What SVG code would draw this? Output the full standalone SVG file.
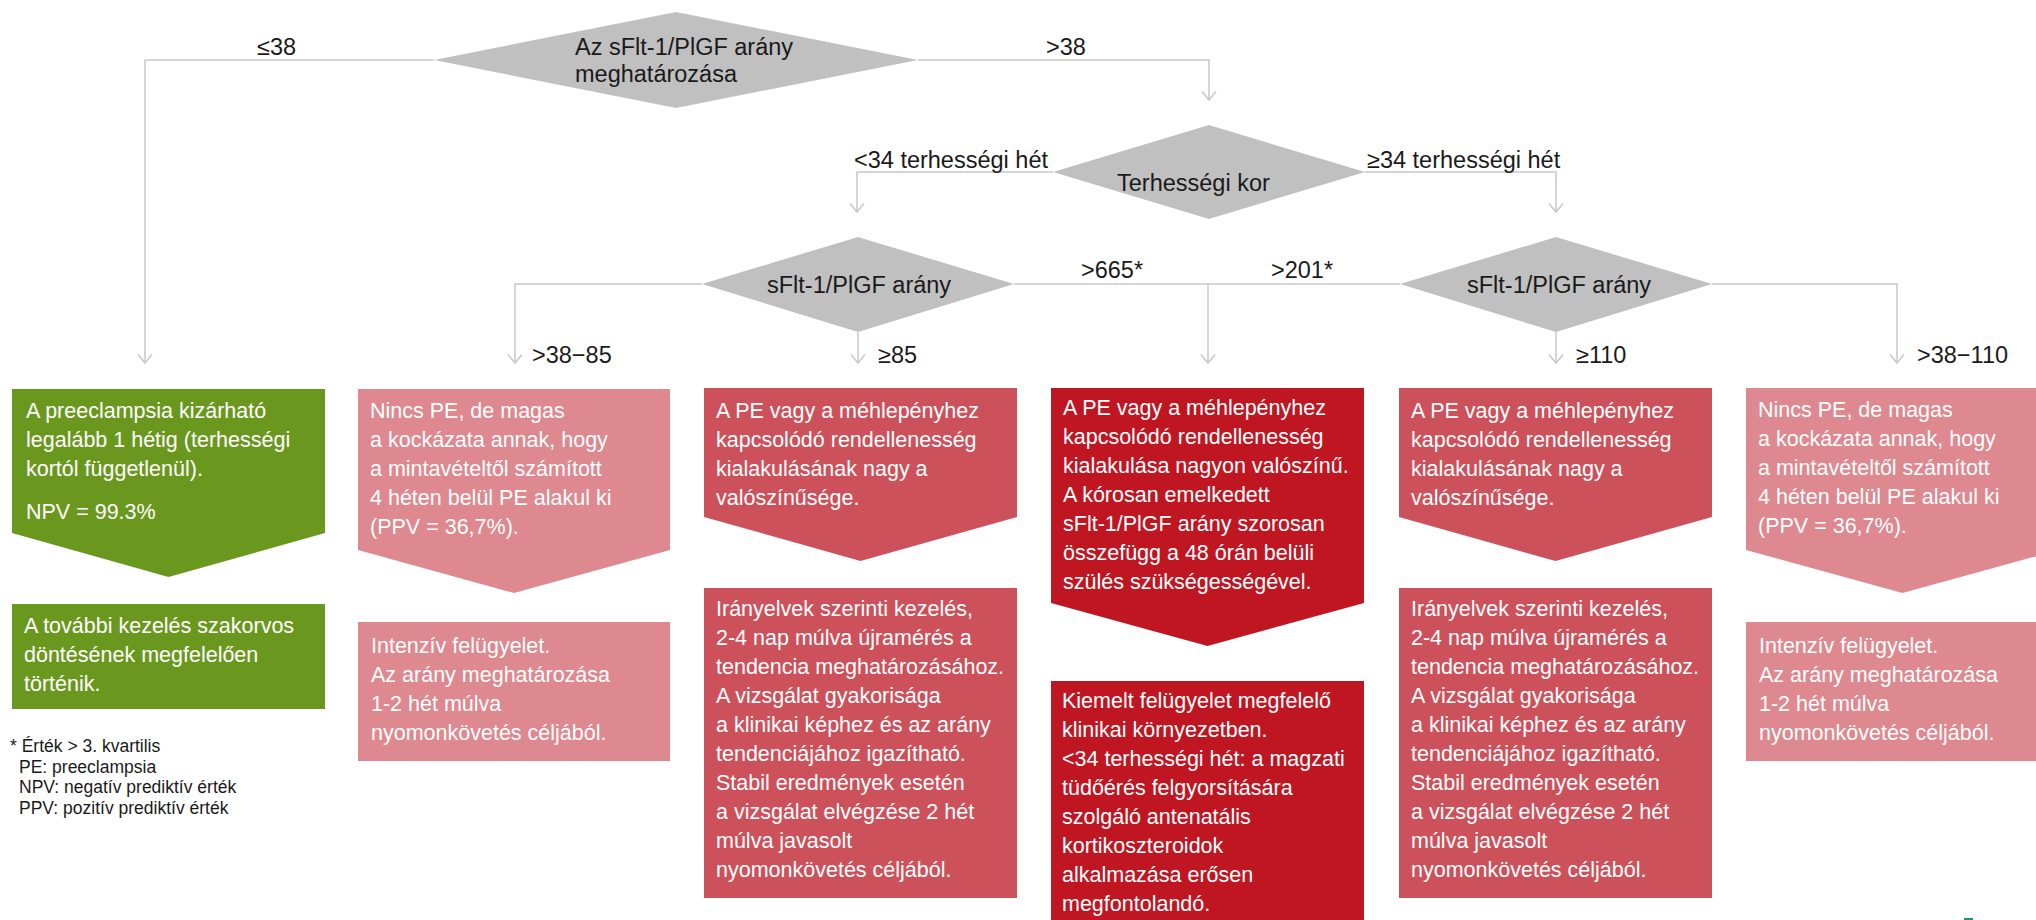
<svg xmlns="http://www.w3.org/2000/svg" width="2036" height="920" viewBox="0 0 2036 920">
<style>
.dia{fill:#c0c0c0}
.dt{font-family:"Liberation Sans",Arial,sans-serif;font-size:23.5px;fill:#1a1a1a}
.lbl{font-family:"Liberation Sans",Arial,sans-serif;font-size:23.5px;fill:#1a1a1a}
.bt{font-family:"Liberation Sans",Arial,sans-serif;font-size:21.5px;fill:#ffffff}
.fn{font-family:"Liberation Sans",Arial,sans-serif;font-size:17.5px;fill:#1a1a1a}
.ln{fill:none;stroke:#c8c8c8;stroke-width:1.5}
.arr{marker-end:url(#ah)}
.green{fill:#6a981e}
.pink{fill:#de8890}
.red{fill:#cd515a}
.dark{fill:#bf1622}
</style>
<defs>
<marker id="ah" markerUnits="userSpaceOnUse" markerWidth="20" markerHeight="20" viewBox="-10 -10 20 20" refX="0" refY="0" orient="auto" overflow="visible">
<path d="M-8.5,-7 L0,0 L-8.5,7" fill="none" stroke="#c8c8c8" stroke-width="1.5"/>
</marker>
</defs>
<rect width="2036" height="920" fill="#ffffff"/>

<g id="connectors">
<path class="ln arr" d="M434,60 H145 V363"/>
<path class="ln arr" d="M918,60 H1209 V100"/>
<path class="ln arr" d="M1053,172 H857 V212"/>
<path class="ln arr" d="M1365,172 H1556 V212"/>
<path class="ln arr" d="M702,284 H515 V363"/>
<path class="ln arr" d="M858,332 V363"/>
<path class="ln" d="M1014,284 H1400"/>
<path class="ln arr" d="M1208,284 V363"/>
<path class="ln arr" d="M1556,332 V363"/>
<path class="ln arr" d="M1712,284 H1897 V363"/>
<text class="lbl" x="257" y="55">≤38</text>
<text class="lbl" x="1046" y="55">&gt;38</text>
<text class="lbl" x="1048" y="168" text-anchor="end">&lt;34 terhességi hét</text>
<text class="lbl" x="1367" y="168">≥34 terhességi hét</text>
<text class="lbl" x="1081" y="278">&gt;665*</text>
<text class="lbl" x="1271" y="278">&gt;201*</text>
<text class="lbl" x="532" y="363">&gt;38−85</text>
<text class="lbl" x="878" y="363">≥85</text>
<text class="lbl" x="1576" y="363">≥110</text>
<text class="lbl" x="1917" y="363">&gt;38−110</text>
</g>

<g id="d-ratio">
<polygon class="dia" points="434,60 676,12 918,60 676,108"/>
<text class="dt" x="575" y="55">Az sFlt-1/PlGF arány</text>
<text class="dt" x="575" y="82">meghatározása</text>
</g>
<g id="d-age">
<polygon class="dia" points="1053,172 1209,125 1365,172 1209,219"/>
<text class="dt" x="1117" y="191">Terhességi kor</text>
</g>
<g id="d-ratio-lt34">
<polygon class="dia" points="702,284 858,237 1014,284 858,332"/>
<text class="dt" x="767" y="293">sFlt-1/PlGF arány</text>
</g>
<g id="d-ratio-ge34">
<polygon class="dia" points="1400,284 1556,237 1712,284 1556,332"/>
<text class="dt" x="1467" y="293">sFlt-1/PlGF arány</text>
</g>

<g id="c1-result">
<polygon class="green" points="12,389 325,389 325,533 168.5,577 12,533"/>
<text class="bt"><tspan x="26" y="418">A preeclampsia kizárható</tspan><tspan x="26" y="447">legalább 1 hétig (terhességi</tspan><tspan x="26" y="476">kortól függetlenül).</tspan><tspan x="26" y="519">NPV = 99.3%</tspan></text>
</g>
<g id="c1-action">
<rect class="green" x="12" y="604" width="313" height="105"/>
<text class="bt"><tspan x="24" y="633">A további kezelés szakorvos</tspan><tspan x="24" y="662">döntésének megfelelően</tspan><tspan x="24" y="691">történik.</tspan></text>
</g>

<g id="c2-result">
<polygon class="pink" points="358,389 670,389 670,550 514,593 358,550"/>
<text class="bt"><tspan x="370" y="418">Nincs PE, de magas</tspan><tspan x="370" y="447">a kockázata annak, hogy</tspan><tspan x="370" y="476">a mintavételtől számított</tspan><tspan x="370" y="505">4 héten belül PE alakul ki</tspan><tspan x="370" y="534">(PPV = 36,7%).</tspan></text>
</g>
<g id="c2-action">
<rect class="pink" x="358" y="622" width="312" height="139"/>
<text class="bt"><tspan x="371" y="653">Intenzív felügyelet.</tspan><tspan x="371" y="682">Az arány meghatározása</tspan><tspan x="371" y="711">1-2 hét múlva</tspan><tspan x="371" y="740">nyomonkövetés céljából.</tspan></text>
</g>

<g id="c3-result">
<polygon class="red" points="704,388 1017,388 1017,517 860.5,561 704,517"/>
<text class="bt"><tspan x="716" y="418">A PE vagy a méhlepényhez</tspan><tspan x="716" y="447">kapcsolódó rendellenesség</tspan><tspan x="716" y="476">kialakulásának nagy a</tspan><tspan x="716" y="505">valószínűsége.</tspan></text>
</g>
<g id="c3-action">
<rect class="red" x="704" y="588" width="313" height="310"/>
<text class="bt"><tspan x="716" y="616">Irányelvek szerinti kezelés,</tspan><tspan x="716" y="645">2-4 nap múlva újramérés a</tspan><tspan x="716" y="674">tendencia meghatározásához.</tspan><tspan x="716" y="703">A vizsgálat gyakorisága</tspan><tspan x="716" y="732">a klinikai képhez és az arány</tspan><tspan x="716" y="761">tendenciájához igazítható.</tspan><tspan x="716" y="790">Stabil eredmények esetén</tspan><tspan x="716" y="819">a vizsgálat elvégzése 2 hét</tspan><tspan x="716" y="848">múlva javasolt</tspan><tspan x="716" y="877">nyomonkövetés céljából.</tspan></text>
</g>

<g id="c4-result">
<polygon class="dark" points="1051,388 1364,388 1364,603 1207.5,646 1051,603"/>
<text class="bt"><tspan x="1063" y="415">A PE vagy a méhlepényhez</tspan><tspan x="1063" y="444">kapcsolódó rendellenesség</tspan><tspan x="1063" y="473">kialakulása nagyon valószínű.</tspan><tspan x="1063" y="502">A kórosan emelkedett</tspan><tspan x="1063" y="531">sFlt-1/PlGF arány szorosan</tspan><tspan x="1063" y="560">összefügg a 48 órán belüli</tspan><tspan x="1063" y="589">szülés szükségességével.</tspan></text>
</g>
<g id="c4-action">
<rect class="dark" x="1051" y="681" width="313" height="245"/>
<text class="bt"><tspan x="1062" y="708">Kiemelt felügyelet megfelelő</tspan><tspan x="1062" y="737">klinikai környezetben.</tspan><tspan x="1062" y="766">&lt;34 terhességi hét: a magzati</tspan><tspan x="1062" y="795">tüdőérés felgyorsítására</tspan><tspan x="1062" y="824">szolgáló antenatális</tspan><tspan x="1062" y="853">kortikoszteroidok</tspan><tspan x="1062" y="882">alkalmazása erősen</tspan><tspan x="1062" y="911">megfontolandó.</tspan></text>
</g>

<g id="c5-result">
<polygon class="red" points="1399,388 1712,388 1712,517 1555.5,561 1399,517"/>
<text class="bt"><tspan x="1411" y="418">A PE vagy a méhlepényhez</tspan><tspan x="1411" y="447">kapcsolódó rendellenesség</tspan><tspan x="1411" y="476">kialakulásának nagy a</tspan><tspan x="1411" y="505">valószínűsége.</tspan></text>
</g>
<g id="c5-action">
<rect class="red" x="1399" y="588" width="313" height="310"/>
<text class="bt"><tspan x="1411" y="616">Irányelvek szerinti kezelés,</tspan><tspan x="1411" y="645">2-4 nap múlva újramérés a</tspan><tspan x="1411" y="674">tendencia meghatározásához.</tspan><tspan x="1411" y="703">A vizsgálat gyakorisága</tspan><tspan x="1411" y="732">a klinikai képhez és az arány</tspan><tspan x="1411" y="761">tendenciájához igazítható.</tspan><tspan x="1411" y="790">Stabil eredmények esetén</tspan><tspan x="1411" y="819">a vizsgálat elvégzése 2 hét</tspan><tspan x="1411" y="848">múlva javasolt</tspan><tspan x="1411" y="877">nyomonkövetés céljából.</tspan></text>
</g>

<g id="c6-result">
<polygon class="pink" points="1746,388 2059,388 2059,550 1902.5,593 1746,550"/>
<text class="bt"><tspan x="1758" y="417">Nincs PE, de magas</tspan><tspan x="1758" y="446">a kockázata annak, hogy</tspan><tspan x="1758" y="475">a mintavételtől számított</tspan><tspan x="1758" y="504">4 héten belül PE alakul ki</tspan><tspan x="1758" y="533">(PPV = 36,7%).</tspan></text>
</g>
<g id="c6-action">
<rect class="pink" x="1746" y="622" width="313" height="139"/>
<text class="bt"><tspan x="1759" y="653">Intenzív felügyelet.</tspan><tspan x="1759" y="682">Az arány meghatározása</tspan><tspan x="1759" y="711">1-2 hét múlva</tspan><tspan x="1759" y="740">nyomonkövetés céljából.</tspan></text>
</g>

<g id="footnote">
<text class="fn"><tspan x="10" y="752">* Érték &gt; 3. kvartilis</tspan><tspan x="19" y="773">PE: preeclampsia</tspan><tspan x="19" y="793">NPV: negatív prediktív érték</tspan><tspan x="19" y="814">PPV: pozitív prediktív érték</tspan></text>
</g>
<rect x="1964" y="918" width="9" height="2" fill="#1a9a6c"/>
</svg>
